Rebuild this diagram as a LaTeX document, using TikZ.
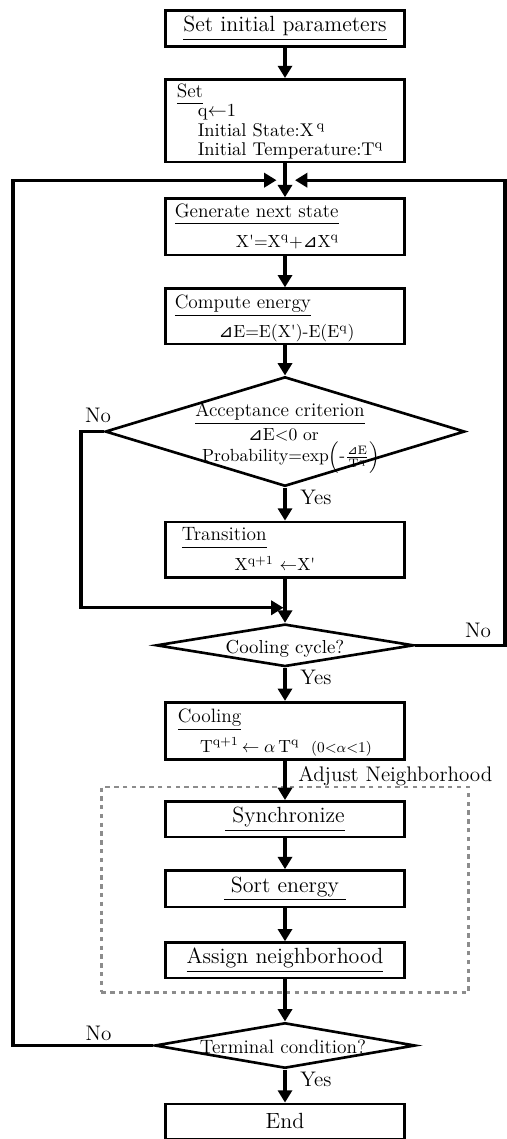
\documentclass[tikz,border=0pt]{standalone}
\usepackage{amsmath}
\usepackage{fontspec}
\usetikzlibrary{arrows.meta,positioning,calc,shapes.geometric,fit}
\newfontfamily\trifont{DejaVu Sans}
\newcommand{\dlt}{{\trifont ⊿}}
\newcommand{\ttl}[1]{\underline{#1\vphantom{gy}}}
\newcommand{\pr}{\textquotesingle}
\definecolor{dashgray}{HTML}{8C8C8C}

\begin{document}
\begin{tikzpicture}[
  node distance=0.6cm,
  stepbox/.style={
    rectangle,
    draw,
    line width=1.5pt,
    minimum width=4.77cm,
    inner sep=0pt
  },
  decision/.style={
    diamond,
    draw,
    line width=1.5pt,
    inner sep=0pt
  },
  flow/.style={line width=1.8pt, -{Triangle[length=7pt,width=8pt]}},
  bigfont/.style={font=\fontsize{12.5}{15}\selectfont},
  ttlfont/.style={font=\fontsize{11}{13}\selectfont, inner sep=0pt},
  formula/.style={font=\fontsize{10}{12}\selectfont, inner sep=0pt},
  lbl/.style={font=\fontsize{12}{14}\selectfont, inner sep=0pt}
]
\useasboundingbox (0,0) rectangle (10.14,-22.78);

% main column
\node[stepbox, bigfont, minimum height=0.73cm] (init) at (5.7,-0.57) {\ttl{Set initial parameters}};
\node[stepbox, minimum height=1.65cm, below=0.6cm of init] (set) {};
\node[stepbox, minimum height=1.13cm, below=0.68cm of set] (gen) {};
\node[stepbox, minimum height=1.11cm, below=0.62cm of gen] (comp) {};
\node[decision, minimum width=7.19cm, minimum height=2.19cm, below=0.6cm of comp] (acc) {};
\node[stepbox, minimum height=1.11cm, below=0.66cm of acc] (trans) {};
\node[decision, minimum width=5.15cm, minimum height=0.85cm, below=0.88cm of trans] (cool) {};
\node[stepbox, minimum height=1.15cm, below=0.66cm of cool] (cooling) {};
\node[stepbox, bigfont, minimum height=0.71cm, below=0.78cm of cooling] (sync) {\ttl{\ Synchronize}};
\node[stepbox, bigfont, minimum height=0.73cm, below=0.62cm of sync] (sort) {\ttl{\ Sort energy\ }};
\node[stepbox, bigfont, minimum height=0.71cm, below=0.66cm of sort] (assign) {\ttl{Assign neighborhood}};
\node[decision, minimum width=5.21cm, minimum height=0.91cm, below=0.84cm of assign] (term) {};
\node[stepbox, bigfont, minimum height=0.7cm, below=0.66cm of term] (end) {End};

% texts inside the boxes
\node[ttlfont, anchor=base west] (settl) at ([xshift=0.24cm,yshift=-0.38cm]set.north west) {\ttl{Set}};
\node[formula, font=\fontsize{10.5}{12}\selectfont, anchor=base west] (setq) at ([xshift=0.66cm,yshift=-0.76cm]set.north west) {q$\leftarrow$1};
\node[formula, font=\fontsize{10.5}{12}\selectfont, anchor=base west] (setx) at ([xshift=0.66cm,yshift=-1.16cm]set.north west) {Initial State:X\,\textsuperscript{q}};
\node[formula, font=\fontsize{10.5}{12}\selectfont, anchor=base west] (sett) at ([xshift=0.66cm,yshift=-1.54cm]set.north west) {Initial Temperature:T\textsuperscript{q}};

\node[ttlfont, anchor=base west] (gentl) at ([xshift=0.2cm,yshift=-0.4cm]gen.north west) {\ttl{Generate next state}};
\node[formula, anchor=base] (genf) at ([xshift=0.05cm,yshift=0.18cm]gen.south) {X\pr=X\textsuperscript{q}+\dlt X\textsuperscript{q}};

\node[ttlfont, anchor=base west] (comptl) at ([xshift=0.2cm,yshift=-0.42cm]comp.north west) {\ttl{Compute energy}};
\node[formula, anchor=base] (compf) at ([xshift=0.03cm,yshift=0.16cm]comp.south) {\dlt E=E(X\pr)-E(E\textsuperscript{q})};

\node[ttlfont, anchor=base] (acctl) at ([xshift=-0.1cm,yshift=0.3cm]acc.center) {\ttl{Acceptance criterion}};
\node[formula, anchor=base] (accl1) at ([xshift=-0.03cm,yshift=-0.17cm]acc.center) {\dlt E<0 or};
\node[formula, anchor=base] (accl2) at ([xshift=0.12cm,yshift=-0.6cm]acc.center) {Probability=exp$\Bigl(\text{-}\frac{\text{\dlt E}}{\mathrm{T}^{\mathrm{q}}}\Bigr)$};

\node[ttlfont, anchor=base west] (transtl) at ([xshift=0.34cm,yshift=-0.4cm]trans.north west) {\ttl{Transition}};
\node[formula, anchor=base] (transf) at ([xshift=-0.2cm,yshift=0.16cm]trans.south) {X\textsuperscript{q+1} $\leftarrow$X\pr};

\node[ttlfont, font=\fontsize{10.7}{13}\selectfont, anchor=base] (cooltx) at ([yshift=-0.17cm]cool.center) {Cooling cycle?};

\node[ttlfont, anchor=base west] (coolingtl) at ([xshift=0.26cm,yshift=-0.44cm]cooling.north west) {\ttl{Cooling}};
\node[formula, anchor=base] (coolingf) at ([xshift=0.02cm,yshift=0.18cm]cooling.south) {T\textsuperscript{q+1}\,$\leftarrow\alpha$\,T\textsuperscript{q}\ \ {\fontsize{8.5}{10}\selectfont(0<$\alpha$<1)}};

\node[ttlfont, anchor=base] (termtx) at ([xshift=-0.04cm,yshift=-0.15cm]term.center) {Terminal condition?};

% neighborhood group
\node[draw=dashgray, line width=1.3pt, dash pattern=on 2.5pt off 2.5pt,
      inner xsep=1.26cm, inner ysep=0.26cm, fit=(sync)(sort)(assign)] (nbhd) {};
\node[lbl, anchor=base west] (nbhdtx) at ([xshift=0.26cm,yshift=-0.4cm]cooling.south) {Adjust Neighborhood};

% connectors
\coordinate (merge) at ($(set.south)!0.5!(gen.north)$);
\coordinate (merge2) at ([yshift=-0.58cm]trans.south);
\coordinate (loopL) at ($(merge)+(-5.44,0)$);
\coordinate (loopR) at ($(merge)+(4.4,0)$);
\coordinate (rejL) at ($(acc.west)+(-0.46,0)$);

\draw[flow] (init) -- (set);
\draw[flow] (set) -- (gen);
\draw[flow] (gen) -- (comp);
\draw[flow] (comp) -- (acc);
\draw[flow] (acc) -- (trans);
\draw[flow] (trans) -- (cool);
\draw[flow] (cool) -- (cooling);
\draw[flow] (cooling) -- (sync);
\draw[flow] (sync) -- (sort);
\draw[flow] (sort) -- (assign);
\draw[flow] (assign) -- (term);
\draw[flow] (term) -- (end);

\draw[flow] (acc.west) -- (rejL) |- ([xshift=-0.03cm]merge2);
\draw[flow] (term.west) -| (loopL) -- ([xshift=-0.17cm]merge);
\draw[flow] (cool.east) -| (loopR) -- ([xshift=0.2cm]merge);

% branch labels
\node[lbl, anchor=base west] (accyes) at ([xshift=0.3cm]$(acc.south)!0.5!(trans.north)$) {Yes};
\node[lbl, anchor=base west] (coolyes) at ([xshift=0.3cm]$(cool.south)!0.5!(cooling.north)$) {Yes};
\node[lbl, anchor=base west] (termyes) at ([xshift=0.3cm]$(term.south)!0.5!(end.north)$) {Yes};
\node[lbl, anchor=base] (accno) at ([xshift=-0.12cm,yshift=0.18cm]acc.west) {No};
\node[lbl, anchor=base] (coolno) at ([xshift=1.26cm,yshift=0.16cm]cool.east) {No};
\node[lbl, anchor=base] (termno) at ([xshift=-1.1cm,yshift=0.1cm]term.west) {No};

\end{tikzpicture}
\end{document}
